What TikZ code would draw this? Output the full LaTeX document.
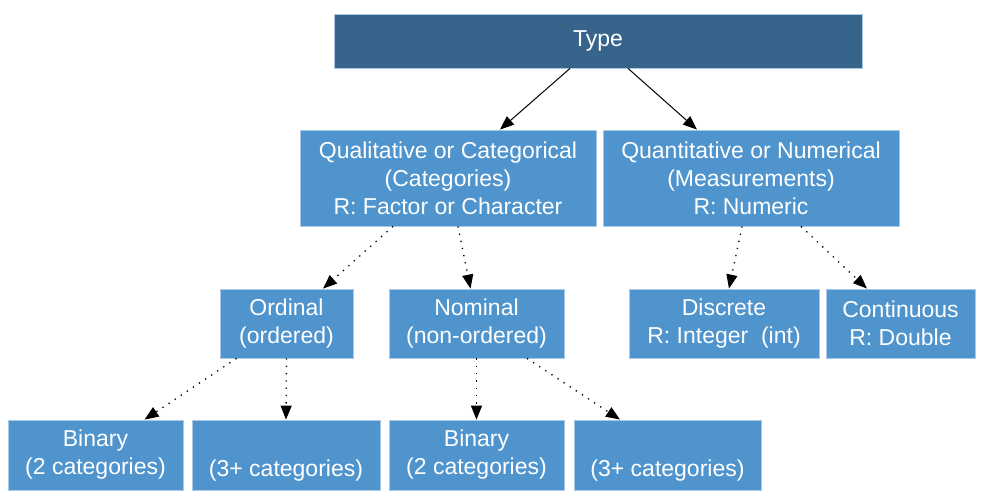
\documentclass[tikz,border=0pt]{standalone}
\usepackage{fontspec}
\setmainfont{Liberation Sans}
\usetikzlibrary{arrows.meta}
\definecolor{darkbox}{HTML}{36648B}
\definecolor{lightbox}{HTML}{4F94CD}
\definecolor{boxedge}{HTML}{A9C9E6}
\begin{document}
\begin{tikzpicture}[x=1pt,y=-1pt,
  box/.style={draw=boxedge,line width=0.8pt,fill=lightbox,text=white,align=center,
    inner sep=0pt,font=\fontsize{23}{28}\selectfont},
  topbox/.style={box,fill=darkbox},
  solidarrow/.style={draw=black,line width=1pt,-{Triangle[length=14pt,width=11pt]}},
  dotarrow/.style={draw=black,line width=1.3pt,dash pattern=on 1.3pt off 6pt,-{Triangle[length=14pt,width=11pt]}}]
\useasboundingbox (0,0) rectangle (990,502);
\fill[white] (0,0) rectangle (990,502);
\node[topbox,minimum width=528pt,minimum height=54pt] (type) at (598,41) {Type};
\node[box,minimum width=296pt,minimum height=96pt] (qual) at (448,178) {Qualitative or Categorical\\(Categories)\\R: Factor or Character};
\node[box,minimum width=296pt,minimum height=96pt] (quant) at (751,178) {Quantitative or Numerical\\(Measurements)\\R: Numeric};
\node[box,minimum width=133pt,minimum height=69pt] (ord) at (286.5,323.5) {Ordinal\\(ordered)};
\node[box,minimum width=175pt,minimum height=69pt] (nom) at (476.5,323.5) {Nominal\\(non-ordered)};
\node[box,minimum width=190pt,minimum height=69pt] (disc) at (724,323.5) {Discrete\\R: Integer\ \ (int)};
\node[box,minimum width=149pt,minimum height=69pt] (cont) at (900.5,323.5) {Continuous\\R: Double};
\node[box,minimum width=175pt,minimum height=70pt] (bin1) at (95.5,455) {Binary\\(2 categories)};
\node[box,minimum width=188pt,minimum height=70pt] (three1) at (286,455) {\strut\\(3+ categories)};
\node[box,minimum width=175pt,minimum height=70pt] (bin2) at (476.5,455) {Binary\\(2 categories)};
\node[box,minimum width=187pt,minimum height=70pt] (three2) at (667.5,455) {\strut\\(3+ categories)};
\draw[solidarrow] ([xshift=-28pt]type.south) -- ([xshift=52pt]qual.north);
\draw[solidarrow] ([xshift=30pt]type.south) -- ([xshift=-54pt]quant.north);
\draw[dotarrow] ([xshift=-55pt]qual.south) -- ([xshift=36.5pt]ord.north);
\draw[dotarrow] ([xshift=10pt]qual.south) -- ([xshift=-6pt]nom.north);
\draw[dotarrow] ([xshift=-9pt]quant.south) -- ([xshift=5pt]disc.north);
\draw[dotarrow] ([xshift=50pt]quant.south) -- ([xshift=-33.5pt]cont.north);
\draw[dotarrow] ([xshift=-50pt]ord.south) -- ([xshift=49pt]bin1.north);
\draw[dotarrow] (ord.south) -- (three1.north);
\draw[dotarrow] (nom.south) -- (bin2.north);
\draw[dotarrow] ([xshift=50.5pt]nom.south) -- ([xshift=-47.5pt]three2.north);
\end{tikzpicture}
\end{document}
